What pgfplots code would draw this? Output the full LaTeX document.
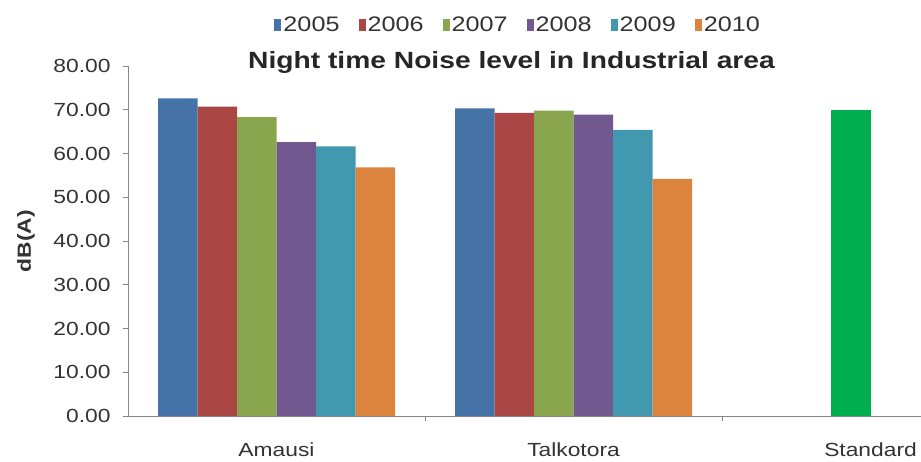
\documentclass[border=0pt]{standalone}
\usepackage{pgfplots}
\pgfplotsset{compat=1.18}
\usepackage{fontspec}
\setmainfont{Liberation Sans}[FakeStretch=1.2]
\definecolor{c05}{HTML}{4572A7}
\definecolor{c06}{HTML}{AA4643}
\definecolor{c07}{HTML}{89A54E}
\definecolor{c08}{HTML}{71588F}
\definecolor{c09}{HTML}{4198AF}
\definecolor{c10}{HTML}{DB843D}
\definecolor{cstd}{HTML}{00B050}
\definecolor{axisgray}{HTML}{868686}
\definecolor{txt}{HTML}{333333}
\begin{document}
\begin{tikzpicture}
\begin{axis}[
  at={(128pt,45pt)}, anchor=south west,
  scale only axis, width=793pt, height=350pt,
  xmin=-0.5, xmax=2.17, ymin=0, ymax=80,
  axis x line*=bottom, axis y line*=left,
  axis line style={color=axisgray, line width=0.9pt},
  tick style={color=axisgray, line width=0.9pt},
  major tick length=5pt, tick align=outside,
  ytick={0,10,...,80},
  yticklabel style={/pgf/number format/.cd, fixed, fixed zerofill, precision=2, assume math mode=true, /tikz/.cd, xshift=-9pt},
  xticklabel style={yshift=-23pt},
  tick label style={font=\fontsize{19}{23}\selectfont, text=txt},
  xtick={0.5,1.5}, xticklabels={},
  extra x ticks={0,1,2},
  extra x tick labels={Amausi,Talkotora,Standard},
  extra x tick style={major tick length=0pt},
  ylabel={dB(A)},
  ylabel style={at={(axis description cs:-0.1286,0.5)}, anchor=center, font=\bfseries\fontsize{19}{23}\selectfont, text=txt},
  title={Night time Noise level in Industrial area},
  title style={at={(axis description cs:0.4836,0.976)}, anchor=base, font=\bfseries\fontsize{23.5}{27}\selectfont, text=black!85},
  bar width=39.5pt,
  ybar=0pt,
  legend columns=6,
  legend style={at={(axis description cs:0.492,1.117)}, anchor=center, draw=none, fill=none,
    font=\fontsize{21}{25}\selectfont, text=txt,
    /tikz/every even column/.append style={column sep=17pt}},
  legend image code/.code={\fill[#1] (0pt,-6pt) rectangle (7pt,6pt);},
]
\addplot[fill=c05, draw=none, bar shift=-98.75pt] coordinates {(0,72.6) (1,70.3)};
\addplot[fill=c06, draw=none, bar shift=-59.25pt] coordinates {(0,70.7) (1,69.3)};
\addplot[fill=c07, draw=none, bar shift=-19.75pt] coordinates {(0,68.3) (1,69.8)};
\addplot[fill=c08, draw=none, bar shift=19.75pt] coordinates {(0,62.6) (1,68.9)};
\addplot[fill=c09, draw=none, bar shift=59.25pt] coordinates {(0,61.6) (1,65.4)};
\addplot[fill=c10, draw=none, bar shift=98.75pt] coordinates {(0,56.8) (1,54.2)};
\addplot[fill=cstd, draw=none, bar shift=-19.75pt, forget plot] coordinates {(2,70.0)};
\legend{2005,2006,2007,2008,2009,2010}
\end{axis}
\pgfresetboundingbox
\path[use as bounding box] (0,0) rectangle (921pt,461pt);
\end{tikzpicture}
\end{document}
